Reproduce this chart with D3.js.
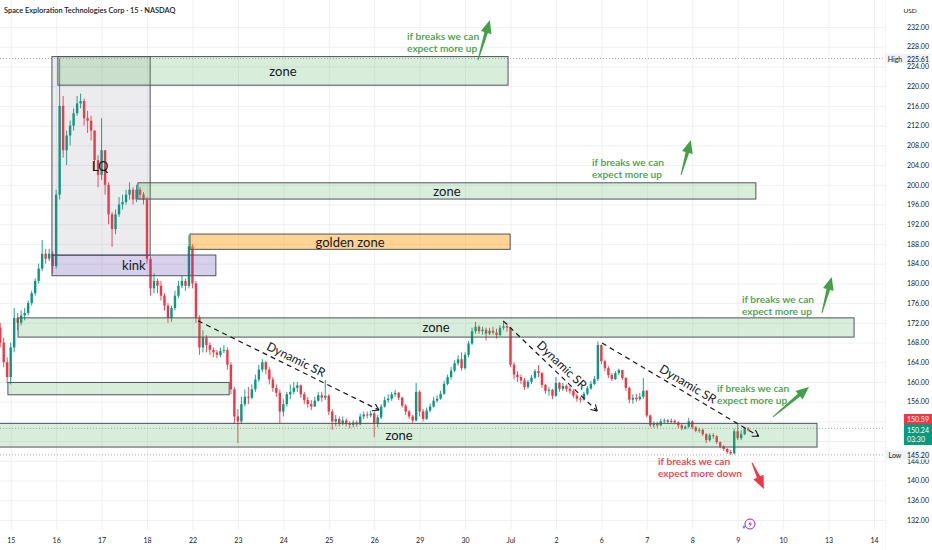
<html>
<head>
<script src="https://d3js.org/d3.v7.min.js"></script>
<style>
  body { margin: 0; background: #fff; }
  svg text { font-family: Lato, "Noto Sans", sans-serif; }
  .grid line { stroke: #eef0f4; }
  .grid .domain { stroke: none; }
  .axis .domain { stroke: none; }
  .axis text { fill: #131722; font-size: 7px; }
</style>
</head>
<body>
<svg width="932" height="550"></svg>
<script>
// tick labels
const dayLabels = ["15","16","17","18","22","23","24","25","26","29","30","Jul","2","6","7","8","9","10","13","14"];
const priceTicks = [132,136,140,144,148,152,156,160,164,168,172,176,180,184,188,192,196,200,204,208,212,216,220,224,228,232];

// candles (half-hour steps), open = previous close
const firstOpen = 171;
const closes = [168,164,161,167,173,172,173.5,174,176,178,180.5,183,186,185,186,183.5,
  198,216,207,210,212,214.5,216.5,217,213.5,213,211,205,202,
  207,200,194,191,194,196,196.5,198,199,197,199,198,197,
  185,179,180.5,179.5,177.5,175.5,173,175,177.5,179.5,180.5,179.5,187.5,
  180,173,167,169,167.5,166.5,166,165.5,166.3,166.5,163.5,158.5,153,
  152,155.5,157,156.8,158.5,160.5,162.5,164,162.5,160.5,158.8,157.8,154,
  155.5,157.5,158,158.8,159.3,157.5,156.3,155.5,155,156.2,157.3,156.8,157.2,
  154,152,152.5,151.6,152.2,151.5,151.3,151.8,151.4,153,153.4,153.2,153.6,
  151.5,152.8,155,156.3,156.6,157.5,157.8,156.8,155.2,154,153,152.2,158,
  154,152.5,154.2,155,156.2,156.6,157.6,159.6,161,162.3,163.8,164.6,162.8,
  165.5,167.8,170.3,171.2,170.3,170.6,169.8,170.4,170,169.5,171,171.3,171,
  163.5,161.5,161,160.3,159,160,160.9,162.2,161.8,159.4,158.2,158.4,157.2,
  159.8,158.6,159.2,158.6,158.2,157.2,156.6,156.4,157.6,158.7,159.6,160.6,167.5,
  164.2,162.8,161.4,160.6,161.8,162.4,160.8,158.8,156.4,156.8,156.5,157,158.2,
  153.2,151.2,151.6,151.2,152,152.2,151.9,152.1,151.8,151.2,150.6,150.9,152,
  150.8,150.1,150.3,149.4,148.2,149.2,149,147.8,146.9,146.4,145.8,145.5,150,
  148.6,149.4,150.6,150.24];
const highs = [172,169,165,168,175,174,174.5,175,176.5,178.5,181,184,188.8,187,187,186.5,
  199,225.6,218,211,213,215.5,218,218.5,217.5,215,214,211,206,
  213.5,207,200.5,194.5,195,197.5,198,199,200.5,199.5,200,199.5,198.5,
  197.5,185.5,182,181,180.5,178,176,175.5,178.5,180.5,181.5,181,189.8,
  188,180.5,173.5,170.5,169.5,168,167,166.5,167,167.5,167,164,159,
  154.5,157,158.5,159,159.5,161.5,163.5,164.6,164.3,163,161,159.5,158.5,
  156.5,158,159.5,160,160,159.5,158,157,156.3,157,158,158,160.4,
  157.5,154.5,153.3,153,153,152.6,152,152.3,152.2,153.6,154,154,154.2,
  154,153.3,155.5,157,157.5,158,158.4,158,157,155.5,154.3,153.3,159.8,
  158.3,154.5,154.8,155.6,157,157.3,158.2,160.2,161.5,163,164.4,165.4,166,
  166,168.3,171,172.2,171.5,171.2,171,171,171.2,170.8,171.5,172.2,172,
  171.2,164,162.2,161.5,160.8,160.4,161.4,162.6,163.4,162,159.6,159,158.6,
  161,160,159.8,159.5,159.2,158.5,157.6,157,158,159.2,160.2,161.2,168.2,
  167.6,164.5,163.2,161.8,162.2,162.7,162.5,161,159,157.5,157.6,157.8,160.8,
  158.4,153.4,152,151.9,152.5,152.6,152.5,152.6,152.4,152,151.6,151.2,152.7,
  152.2,151,150.7,150.5,149.6,149.6,149.6,149.2,147.9,147.2,146.6,146.2,150.5,
  151.7,150.2,150.9,150.8];
const lows = [167,163,159.8,159.5,166,170.5,171.5,172.5,173.5,175.5,177.5,180,182.5,184,184.5,182,
  183,197,205.5,204,208,211,214,215.5,212,210.5,209,203,199.5,
  201,198,192,187.4,190,193.5,195,196,197,196,196.5,197,196,
  184,177.5,178,178,176.5,174.5,172,172.2,174.5,177,179,178.5,179,
  179,172,165.5,166,166,165.5,165,164.8,165,165.8,162.5,157.5,151.5,
  147.6,151.5,155,155.5,156.5,158,160,162,161.5,159.5,158,157,151.7,
  153,155,156.5,157.5,158,156.8,155.5,154.8,154.3,155,156,156,156.3,
  153.3,150.3,151,151,151.2,151,150.6,150.8,150.9,151.2,152.5,152.6,152.8,
  148.8,150.8,152.5,154.8,155.8,156.2,157,156.3,154.8,153.3,152.5,151.7,152,
  153,152,152.3,153.8,154.8,155.8,156.4,157.4,159.3,160.5,162,163.3,162.3,
  162.5,165,167.5,169.8,169.8,169.6,168.4,169.5,169.6,168.8,169.3,170.5,170.2,
  163,160.5,160,159.6,158.4,158.6,159.6,160.6,161,158.8,157.6,157.2,156.5,
  157,158,158.2,158,157.6,156.8,156,155.8,156.2,157.3,158.4,159.4,160.2,
  163.6,162.2,160.8,160.2,160.4,161.4,160.4,158.2,155.7,155.6,156,156.2,156.6,
  152.8,150.8,150.7,150.7,151,151.6,151.5,151.6,151.4,150.6,150.2,150.3,150.6,
  150.4,149.8,149.7,149,147.6,147.9,148.5,147.4,146.5,146,145.4,145.2,145.3,
  148.2,148.2,149.2,150];

const highPrice = 225.61, lowPrice = 145.20, lastPrice = 150.24, markPrice = 150.59;

// drawings, in bar index / price
const boxes = [
  { kind: "lq",     from: 14.8, to: 42.9,  top: 226,   bottom: 185.7, text: "" },
  { kind: "zone",   from: 16.5, to: 145.3, top: 226,   bottom: 220.2, text: "zone" },
  { kind: "zone",   from: 39.4, to: 216.2, top: 200.4, bottom: 197.1, text: "zone" },
  { kind: "golden", from: 54.3, to: 145.9, top: 190,   bottom: 186.9, text: "golden zone" },
  { kind: "kink",   from: 14.8, to: 61.7,  top: 185.75,bottom: 181.55,text: "kink" },
  { kind: "zone",   from: 5.1,  to: 244.3, top: 173,   bottom: 169.1, text: "zone" },
  { kind: "zone",   from: 2.2,  to: 65.5,  top: 159.9, bottom: 157.4, text: "" },
  { kind: "zone",   from: -5.5, to: 233.7, top: 151.6, bottom: 146.8, text: "zone" }
];
// dashed trend lines; label sits at fraction "at" along the line
const srLines = [
  { from: [56.6, 172.4], to: [108.4, 154.3], at: 0.52 },
  { from: [143.9, 172.4], to: [170.8, 154.1], at: 0.56 },
  { from: [172.2, 167.9], to: [217.0, 149.0], at: 0.52 }
];
const notes = [
  { at: [116.4, 230.2], lines: ["if breaks we can", "expect more up"], up: true },
  { at: [169.3, 204.6], lines: ["if breaks we can", "expect more up"], up: true },
  { at: [212.2, 176.8], lines: ["if breaks we can", "expect more up"], up: true },
  { at: [205.1, 158.8], lines: ["if breaks we can", "expect more up"], up: true },
  { at: [188.2, 144.0], lines: ["if breaks we can", "expect more down"], up: false }
];
const arrows = [
  { from: [136.7, 225.3], to: [140.1, 233.4], up: true },
  { from: [194.8, 202.0], to: [197.6, 209.1], up: true },
  { from: [235.1, 174.0], to: [237.9, 181.3], up: true },
  { from: [221.1, 152.9], to: [231.4, 159.0], up: true },
  { from: [215.1, 143.6], to: [218.5, 138.3], up: false }
];

const svg = d3.select("svg");
const plotRight = 885, plotBottom = 530;
const green = "#089981", red = "#f23645";

const x = d3.scaleLinear().domain([3, 250]).range([10.7, 874]);
const y = d3.scaleLinear().domain([132, 232]).range([520, 27]);
const dayStarts = dayLabels.map((d, k) => 3 + k * 13);

svg.append("rect").attr("width", 932).attr("height", 550).attr("fill", "#fff");

// gridlines
svg.append("g").attr("class", "grid")
  .call(d3.axisLeft(y).tickValues(priceTicks).tickFormat("").tickSize(-plotRight));
svg.append("g").attr("class", "grid")
  .attr("transform", `translate(0,${plotBottom})`)
  .call(d3.axisBottom(x).tickValues(dayStarts).tickFormat("").tickSize(-plotBottom));

const chart = svg.append("g");
chart.append("clipPath").attr("id", "clip")
  .append("rect").attr("width", plotRight).attr("height", plotBottom);
chart.attr("clip-path", "url(#clip)");

// dotted price lines
[highPrice, lowPrice, markPrice].forEach(p => {
  chart.append("line")
    .attr("x1", 0).attr("x2", plotRight)
    .attr("y1", y(p)).attr("y2", y(p))
    .attr("stroke", "#9598a1").attr("stroke-width", 0.8)
    .attr("stroke-dasharray", "1,2");
});

// candles
closes.forEach((c, i) => {
  const o = i === 0 ? firstOpen : closes[i - 1];
  const col = c >= o ? green : red;
  chart.append("line")
    .attr("x1", x(i)).attr("x2", x(i))
    .attr("y1", y(highs[i])).attr("y2", y(lows[i]))
    .attr("stroke", col).attr("stroke-width", 0.9);
  chart.append("rect")
    .attr("x", x(i) - 1.2).attr("width", 2.4)
    .attr("y", y(Math.max(o, c)))
    .attr("height", Math.max(0.8, Math.abs(y(o) - y(c))))
    .attr("fill", col);
});

// boxes
const boxFill = {
  lq: "rgba(120,123,134,0.14)",
  zone: "rgba(76,175,80,0.21)",
  golden: "rgba(255,152,0,0.42)",
  kink: "rgba(95,75,175,0.26)"
};
boxes.forEach(b => {
  chart.append("rect")
    .attr("x", x(b.from)).attr("y", y(b.top))
    .attr("width", x(b.to) - x(b.from))
    .attr("height", y(b.bottom) - y(b.top))
    .attr("fill", boxFill[b.kind])
    .attr("stroke", "#50535e").attr("stroke-width", 1);
  if (b.text) {
    chart.append("text")
      .attr("x", (x(b.from) + x(b.to)) / 2)
      .attr("y", (y(b.top) + y(b.bottom)) / 2)
      .attr("text-anchor", "middle").attr("dominant-baseline", "central")
      .attr("font-size", 13).attr("fill", "#131722")
      .text(b.text);
  }
});
chart.append("text")
  .attr("x", x(28.55)).attr("y", y(203.8))
  .attr("text-anchor", "middle").attr("dominant-baseline", "central")
  .attr("font-size", 13).attr("fill", "#131722").text("LQ");

// dynamic SR dashed lines
srLines.forEach(s => {
  const x0 = x(s.from[0]), y0 = y(s.from[1]), x1 = x(s.to[0]), y1 = y(s.to[1]);
  chart.append("line")
    .attr("x1", x0).attr("y1", y0).attr("x2", x1).attr("y2", y1)
    .attr("stroke", "#131722").attr("stroke-width", 1.2)
    .attr("stroke-dasharray", "5,4");
  const ang = Math.atan2(y1 - y0, x1 - x0);
  [0.55, -0.55].forEach(d => {
    chart.append("line")
      .attr("x1", x1).attr("y1", y1)
      .attr("x2", x1 - 7 * Math.cos(ang + d)).attr("y2", y1 - 7 * Math.sin(ang + d))
      .attr("stroke", "#131722").attr("stroke-width", 1.1);
  });
  const lx = x0 + (x1 - x0) * s.at + Math.sin(ang) * 9;
  const ly = y0 + (y1 - y0) * s.at - Math.cos(ang) * 9;
  chart.append("text")
    .attr("transform", `translate(${lx},${ly}) rotate(${ang * 180 / Math.PI})`)
    .attr("text-anchor", "middle").attr("dominant-baseline", "central")
    .attr("font-size", 12).attr("fill", "#131722")
    .text("Dynamic SR");
});

// notes
notes.forEach(n => {
  n.lines.forEach((t, k) => {
    chart.append("text")
      .attr("x", x(n.at[0])).attr("y", y(n.at[1]) + k * 12)
      .attr("dominant-baseline", "central")
      .attr("font-size", 10.2).attr("font-weight", 600)
      .attr("fill", n.up ? "#43a047" : red)
      .text(t);
  });
});

// arrows
arrows.forEach(a => {
  const x0 = x(a.from[0]), y0 = y(a.from[1]), x1 = x(a.to[0]), y1 = y(a.to[1]);
  const len = Math.hypot(x1 - x0, y1 - y0);
  const ux = (x1 - x0) / len, uy = (y1 - y0) / len, nx = -uy, ny = ux;
  const hb = 13, bx = x1 - ux * hb, by = y1 - uy * hb;
  const pts = [
    [x0 + nx * 0.5, y0 + ny * 0.5], [bx + nx * 1.8, by + ny * 1.8], [bx + nx * 5.5, by + ny * 5.5],
    [x1, y1],
    [bx - nx * 5.5, by - ny * 5.5], [bx - nx * 1.8, by - ny * 1.8], [x0 - nx * 0.5, y0 - ny * 0.5]
  ];
  svg.append("polygon")
    .attr("points", pts.map(p => p.join(",")).join(" "))
    .attr("fill", a.up ? "#43a047" : red);
});

// price axis (labels under the price tags are hidden, as on the reference)
const tagPrices = [markPrice, lastPrice];
svg.append("rect").attr("x", plotRight).attr("width", 932 - plotRight).attr("height", 550).attr("fill", "#fff");
svg.append("line").attr("x1", plotRight + 0.5).attr("x2", plotRight + 0.5)
  .attr("y1", 0).attr("y2", 550).attr("stroke", "#f0f3fa");
svg.append("g").attr("class", "axis")
  .attr("transform", `translate(${plotRight},0)`)
  .call(d3.axisRight(y)
    .tickValues(priceTicks.filter(p => tagPrices.every(t => Math.abs(p - t) > 2.5)))
    .tickFormat(d3.format(".2f")).tickSize(0).tickPadding(22));
svg.append("text").attr("x", 910).attr("y", 10).attr("text-anchor", "middle")
  .attr("dominant-baseline", "central").attr("font-size", 6.5).attr("fill", "#131722").text("USD");

// high / low tags
[["High", highPrice], ["Low", lowPrice]].forEach(([lab, p]) => {
  svg.append("rect").attr("x", 886).attr("y", y(p) - 4.5).attr("width", 44).attr("height", 9)
    .attr("fill", "#eef1f6");
  svg.append("text").attr("x", 895).attr("y", y(p)).attr("text-anchor", "middle")
    .attr("dominant-baseline", "central").attr("font-size", 7).attr("fill", "#131722").text(lab);
  svg.append("text").attr("x", 907).attr("y", y(p))
    .attr("dominant-baseline", "central").attr("font-size", 7).attr("fill", "#131722")
    .text(d3.format(".2f")(p));
});

// last price tags
svg.append("rect").attr("x", 904).attr("y", 414).attr("width", 28).attr("height", 10).attr("fill", red);
svg.append("text").attr("x", 907).attr("y", 419).attr("dominant-baseline", "central")
  .attr("font-size", 7).attr("fill", "#fff").text(d3.format(".2f")(markPrice));
svg.append("rect").attr("x", 904).attr("y", 424).attr("width", 28).attr("height", 21).attr("fill", green);
svg.append("text").attr("x", 907).attr("y", 430).attr("dominant-baseline", "central")
  .attr("font-size", 7).attr("fill", "#fff").text(d3.format(".2f")(lastPrice));
svg.append("text").attr("x", 907).attr("y", 439).attr("dominant-baseline", "central")
  .attr("font-size", 7).attr("fill", "#fff").text("03:30");

// time axis
svg.append("g").attr("class", "axis")
  .attr("transform", `translate(0,${plotBottom})`)
  .call(d3.axisBottom(x).tickValues(dayStarts).tickFormat((d, k) => dayLabels[k]).tickSize(0).tickPadding(8));

// event marker
svg.append("circle").attr("cx", 750).attr("cy", 524).attr("r", 5)
  .attr("fill", "#fff").attr("stroke", "#9c27b0").attr("stroke-width", 1);
svg.append("path").attr("d", "M751.2,520.5 L748.3,524.6 L750.4,524.6 L749.2,527.6 L752,523.4 L749.9,523.4 Z")
  .attr("fill", "#9c27b0");
svg.append("path").attr("d", "M742.5,527 h3 M744,525.5 v3")
  .attr("stroke", "#7e57c2").attr("stroke-width", 1);

// title
svg.append("text").attr("x", 4).attr("y", 10).attr("dominant-baseline", "central")
  .attr("font-size", 7.4).attr("font-weight", 600).attr("fill", "#131722")
  .text("Space Exploration Technologies Corp · 15 · NASDAQ");
</script>
</body>
</html>
